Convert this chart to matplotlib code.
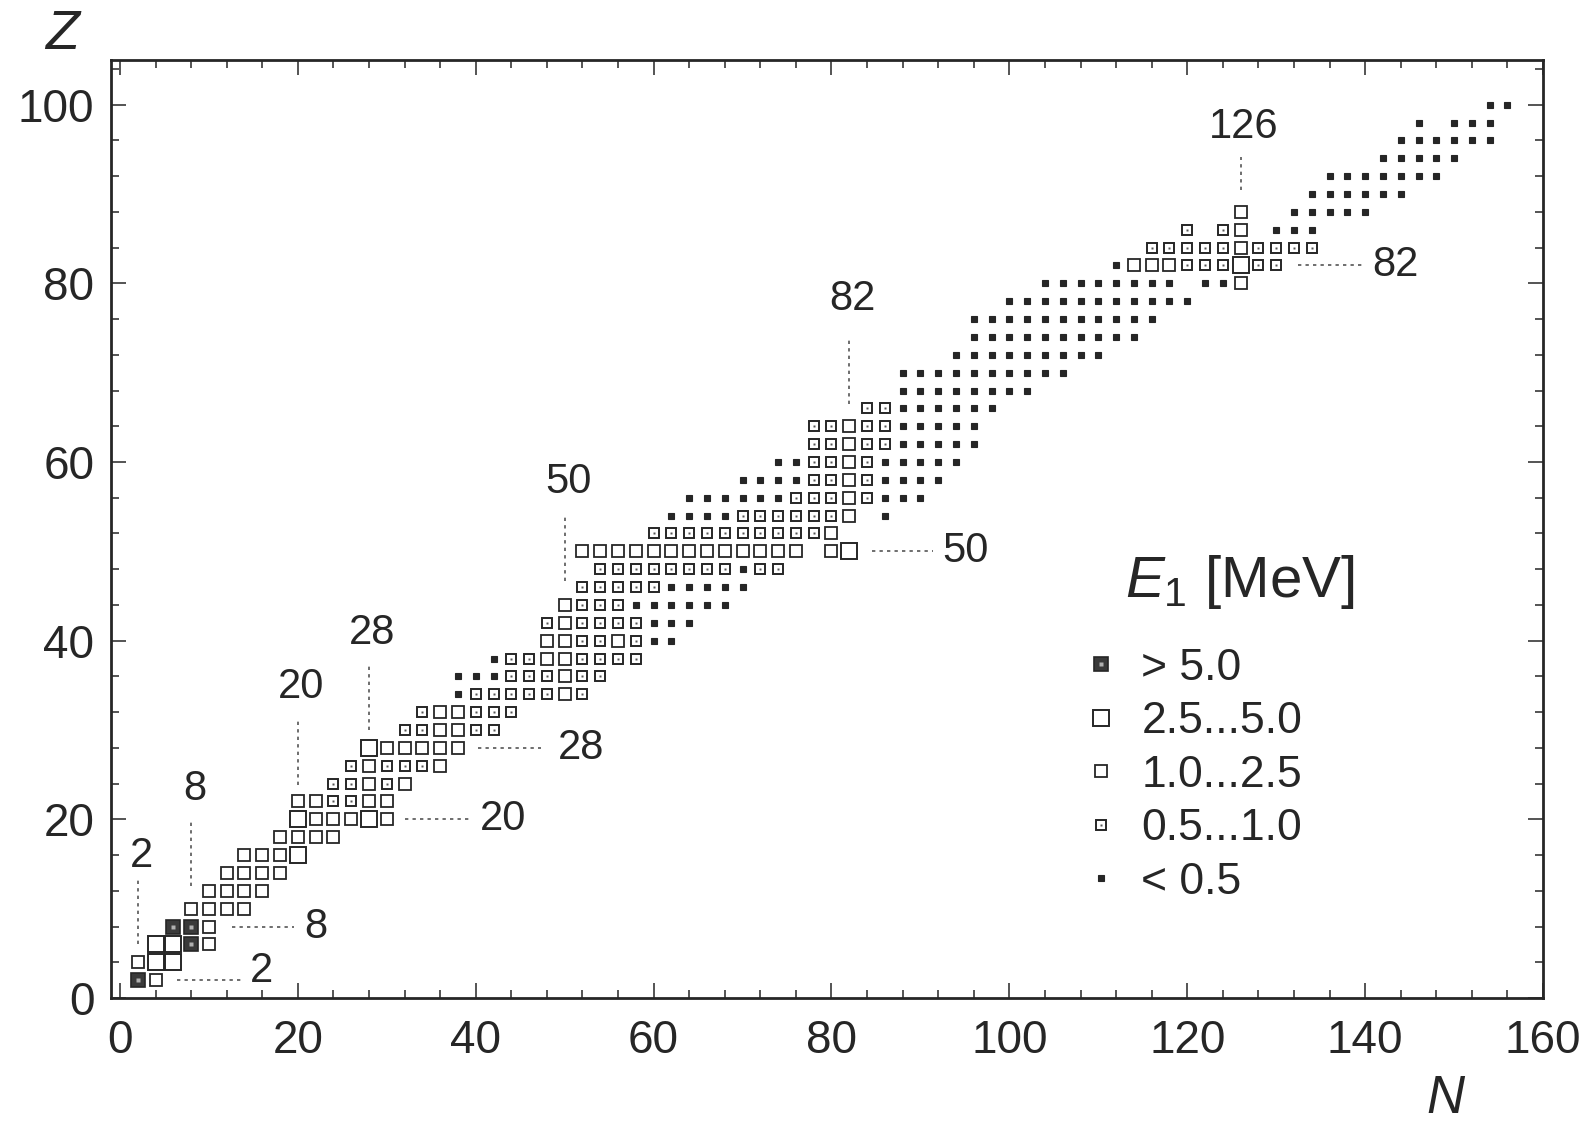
import matplotlib.pyplot as plt
from matplotlib.lines import Line2D
from matplotlib.ticker import MultipleLocator

# even-even nuclei: one row per proton number Z.
# N_FIRST is the neutron number of the first entry in the row, E_CLASS gives
# one code per even N step: 0 (<0.5), 1 (0.5...1.0), 2 (1.0...2.5),
# 3 (2.5...5.0), 4 (>5.0) MeV, '-' = no entry
Z_ROWS = [2, 4, 6, 8, 10, 12, 14, 16, 18, 20,
          22, 24, 26, 28, 30, 32, 34, 36, 38, 40,
          42, 44, 46, 48, 50, 52, 54, 56, 58, 60,
          62, 64, 66, 68, 70, 72, 74, 76, 78, 80,
          82, 84, 86, 88, 90, 92, 94, 96, 98, 100]
N_FIRST = [2, 2, 4, 6, 8, 10, 12, 14, 18, 20,
           20, 24, 26, 28, 32, 34, 38, 38, 42, 48,
           48, 50, 52, 54, 52, 60, 62, 64, 70, 74,
           78, 78, 84, 88, 88, 94, 96, 96, 100, 104,
           112, 116, 120, 126, 134, 136, 142, 144, 146, 154]
E_CLASS = ["42", "233", "3342", "442", "2222", "2222", "2222", "2223", "2222", "322232",
           "221122", "11212", "121112", "322222", "112211", "122111", "01111121", "000111211", "011221111", "22112100",
           "121111000", "2111000000", "1111100000", "11111111011", "2222222222222-23", "11111111112", "00001111112-0", "00000011121000", "000011210000", "00112100000",
           "1121100000", "1121100000", "11000000", "00000000", "0000000000", "000000000", "0000000000", "00000000000", "00000000000", "00000000-002",
           "0222111311", "1111121111", "1-12-000", "2--00000", "000000", "0000000", "00000", "000000", "0-000", "00"]

LEGEND_LABELS = ["> 5.0", "2.5...5.0", "1.0...2.5", "0.5...1.0", "< 0.5"]

# magic numbers with dotted leader lines
MAGIC_N = [2, 8, 20, 28, 50, 82, 126]
MAGIC_Z = [2, 8, 20, 28, 50, 82]

# leader geometry (data units)
N_LEAD_Z = [(6.0, 13.3), (12.5, 19.7), (23.9, 31.1), (30.0, 37.2), (46.7, 53.9), (66.5, 73.9), (90.5, 94.1)]
N_LABEL_Z = [15.9, 23.4, 34.8, 40.9, 57.8, 78.3, 97.5]
Z_LEAD_N = [(6.4, 13.7), (12.6, 19.6), (32.1, 39.2), (40.3, 47.3), (84.5, 91.4), (132.4, 139.8)]
Z_LABEL_N = [15.9, 22.0, 43.1, 51.8, 95.1, 143.4]
Z_LABEL_DZ = [1.0, 0, 0, 0, 0, 0]

INK = "#262626"
FONT = ["Liberation Sans", "DejaVu Sans"]
plt.rcParams["font.family"] = FONT
plt.rcParams["mathtext.fontset"] = "custom"
plt.rcParams["mathtext.it"] = "Liberation Sans:italic"
plt.rcParams["mathtext.rm"] = "Liberation Sans"

# marker style per class
STYLE = {
    0: dict(marker="s", ms=4.2, mfc=INK, mec=INK, mew=0.8),
    1: dict(marker="s", ms=6.6, mfc="white", mec=INK, mew=1.4),
    2: dict(marker="s", ms=8.6, mfc="white", mec=INK, mew=1.3),
    3: dict(marker="s", ms=11.8, mfc="white", mec=INK, mew=1.4),
    4: dict(marker="s", ms=9.6, mfc="#3a3a3a", mec=INK, mew=1.2),
}
INNER = {
    1: dict(marker="s", ms=1.8, mfc="#555555", mec="none"),
    4: dict(marker="s", ms=3.2, mfc="#b0b0b0", mec="none"),
}

points = {k: ([], []) for k in range(5)}
for z, n0, codes in zip(Z_ROWS, N_FIRST, E_CLASS):
    for i, c in enumerate(codes):
        if c == "-":
            continue
        points[int(c)][0].append(n0 + 2 * i)
        points[int(c)][1].append(z)

fig = plt.figure(figsize=(15.8, 11.22), dpi=100)
ax = fig.add_axes([0.0703, 0.1105, 0.9063, 0.836])

for k in range(5):
    ns, zs = points[k]
    ax.plot(ns, zs, ls="none", zorder=3, **STYLE[k])
    if k in INNER:
        ax.plot(ns, zs, ls="none", zorder=4, **INNER[k])

dots = dict(color="#555555", lw=1.2, ls=(0, (2, 2.5)), zorder=2)
for n, (z0, z1), zl in zip(MAGIC_N, N_LEAD_Z, N_LABEL_Z):
    ax.plot([n, n], [z0, z1], **dots)
    ax.text(n + 0.4, zl, str(n), fontsize=30, color=INK, ha="center", va="center")
for z, (n0, n1), nl, dz in zip(MAGIC_Z, Z_LEAD_N, Z_LABEL_N, Z_LABEL_DZ):
    ax.plot([n0, n1], [z, z], **dots)
    ax.text(nl, z + dz, str(z), fontsize=30, color=INK, ha="center", va="center")

ax.set_xlim(-1, 160)
ax.set_ylim(0, 105)
ax.xaxis.set_major_locator(MultipleLocator(20))
ax.xaxis.set_minor_locator(MultipleLocator(4))
ax.yaxis.set_major_locator(MultipleLocator(20))
ax.yaxis.set_minor_locator(MultipleLocator(4))
ax.tick_params(which="both", direction="in", top=True, right=True,
               colors=INK, labelsize=33, width=1.1)
ax.tick_params(which="major", length=11)
ax.tick_params(which="minor", length=5.5)
ax.tick_params(axis="x", pad=15)
ax.tick_params(axis="y", pad=12)
for sp in ax.spines.values():
    sp.set_linewidth(2.0)
    sp.set_color(INK)

ax.set_xlabel("N", fontsize=38, style="italic", color=INK, va="center")
ax.xaxis.set_label_coords(0.932, -0.108)
ax.set_ylabel("Z", fontsize=40, style="italic", color=INK, rotation=0, ha="center", va="center")
ax.yaxis.set_label_coords(-0.034, 1.027)

# legend
handles = []
for k in [4, 3, 2, 1, 0]:
    outer = Line2D([], [], ls="none", **STYLE[k])
    if k in INNER:
        handles.append((outer, Line2D([], [], ls="none", **INNER[k])))
    else:
        handles.append(outer)
leg = ax.legend(handles, LEGEND_LABELS, loc="upper left",
                bbox_to_anchor=(1088 / 1580, 1 - 648 / 1122), bbox_transform=fig.transFigure,
                frameon=False, fontsize=32, handlelength=0.6, handletextpad=0.6,
                labelspacing=0.28, borderpad=0, borderaxespad=0)
for t in leg.get_texts():
    t.set_color(INK)
fig.text(1125 / 1580, 1 - 582 / 1122, "$E_1$ [MeV]", fontsize=42, color=INK,
         ha="left", va="center")

fig.savefig("out.png", dpi=100)
